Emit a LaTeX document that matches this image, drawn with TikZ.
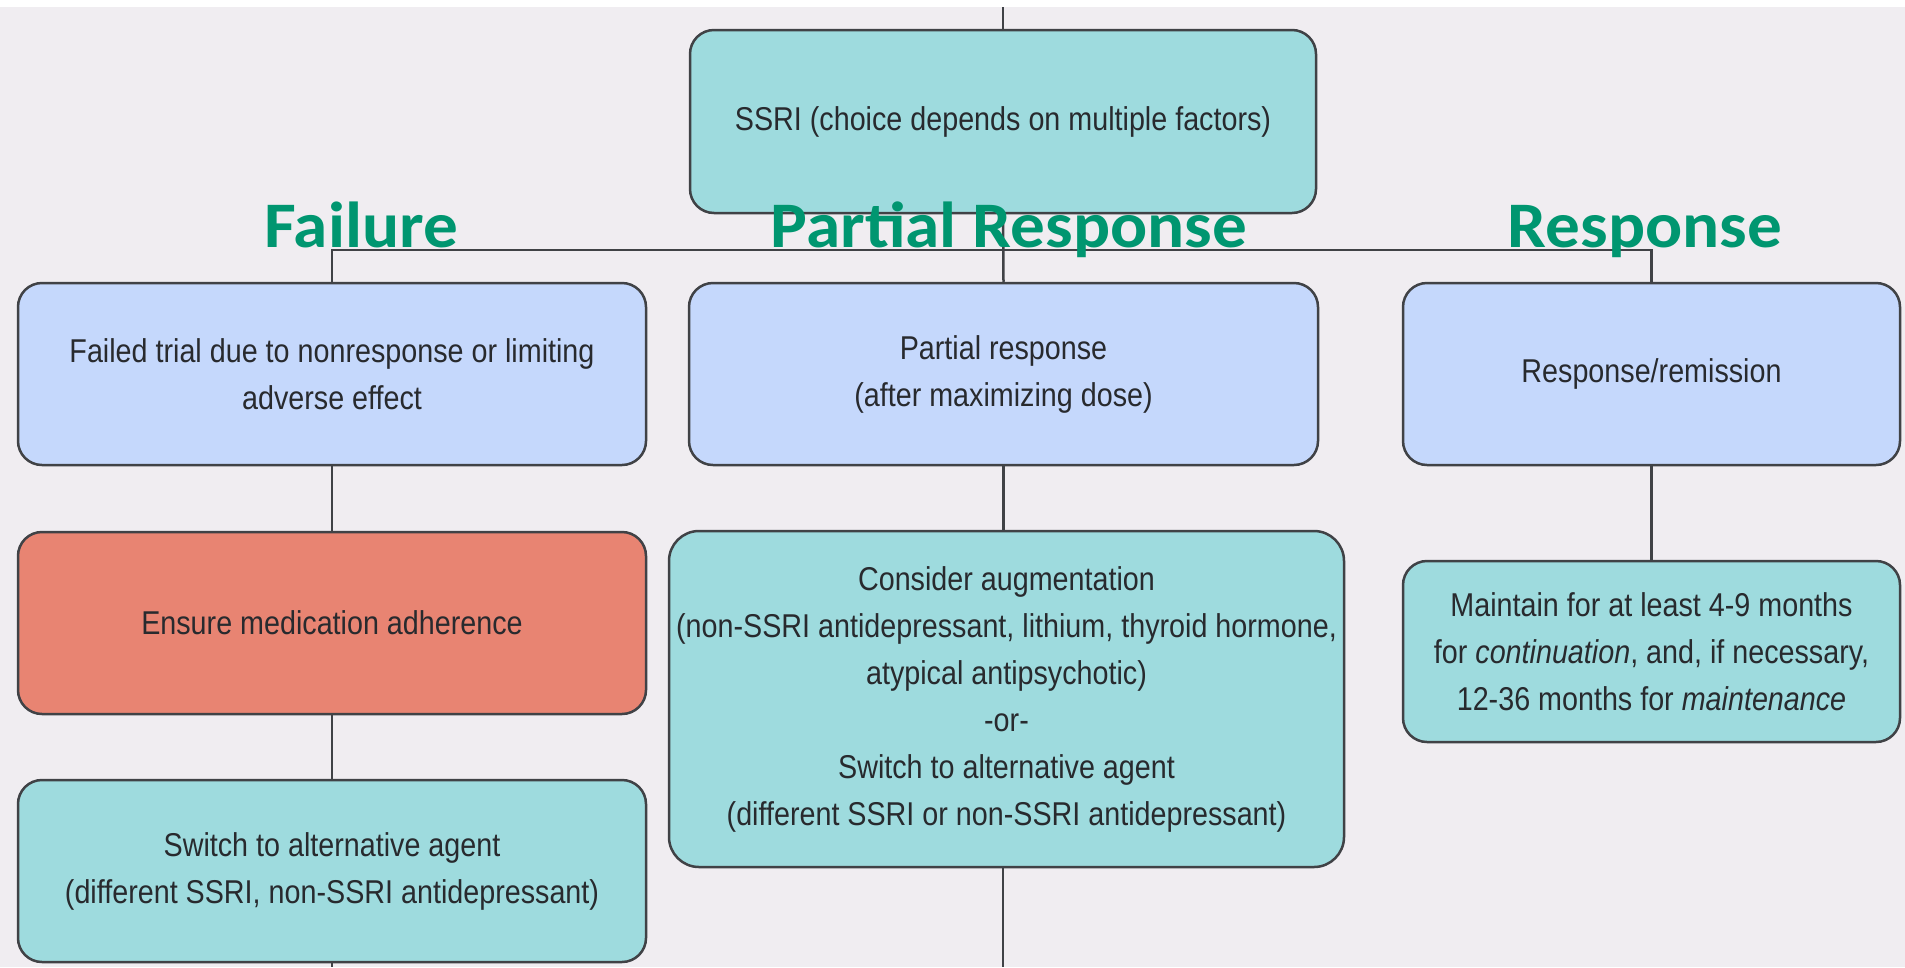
\documentclass[tikz,border=0pt]{standalone}
\usepackage{fontspec}
\setmainfont{Liberation Sans}[FakeStretch=0.87]
\newfontfamily\labelfont{Carlito}[FakeStretch=1.065]
\definecolor{bg}{RGB}{240,237,241}
\definecolor{tealbox}{RGB}{158,219,222}
\definecolor{bluebox}{RGB}{197,216,252}
\definecolor{redbox}{RGB}{232,132,114}
\definecolor{edge}{RGB}{64,66,70}
\definecolor{txt}{RGB}{40,42,46}
\definecolor{lblgreen}{RGB}{0,150,112}
\tikzset{
  box/.style={draw=edge, line width=2.5pt, rounded corners=24pt, align=center,
    text=txt, font=\fontsize{33}{47}\selectfont, inner sep=0pt},
  tbox/.style={box, fill=tealbox},
  bbox/.style={box, fill=bluebox},
  rbox/.style={box, fill=redbox},
  conn/.style={draw=edge, line width=2.5pt},
  lbl/.style={text=lblgreen, font=\labelfont\bfseries\fontsize{65}{70}\selectfont, anchor=base, inner sep=0pt}
}
\begin{document}
\begin{tikzpicture}[x=1pt,y=-1pt]
\fill[bg] (0,0) rectangle (1905,967);
\fill[white] (0,0) rectangle (1905,7);
\useasboundingbox (0,0) rectangle (1905,967);

\node[tbox, minimum width=626pt, minimum height=183pt] (ssri) at (1003,121.5) {SSRI (choice depends on multiple factors)};

\node[bbox, minimum width=628pt, minimum height=182pt] (fail) at (332,374) {Failed trial due to nonresponse or limiting\\adverse effect};
\node[rbox, minimum width=628pt, minimum height=182pt] (adh) at (332,623) {Ensure medication adherence};
\node[tbox, minimum width=628pt, minimum height=182pt] (sw) at (332,871) {Switch to alternative agent\\(different SSRI, non-SSRI antidepressant)};

\node[bbox, minimum width=629pt, minimum height=182pt] (part) at (1003.5,374) {Partial response\\(after maximizing dose)};
\node[tbox, rounded corners=30pt, minimum width=675pt, minimum height=336pt] (cons) at (1006.5,699) {Consider augmentation\\(non-SSRI antidepressant, lithium, thyroid hormone,\\atypical antipsychotic)\\-or-\\Switch to alternative agent\\(different SSRI or non-SSRI antidepressant)};

\node[bbox, minimum width=497pt, minimum height=182pt] (resp) at (1651.5,374) {Response/remission};
\node[tbox, minimum width=497pt, minimum height=181pt] (maint) at (1651.5,651.5) {Maintain for at least 4-9 months\\for \textit{continuation}, and, if necessary,\\12-36 months for \textit{maintenance}};

\coordinate (top) at (1003,7);
\coordinate (bar) at (1003,250);
\coordinate (bfail) at (332,967);
\coordinate (bcons) at (1003,967);

\draw[conn] (top) -- (ssri.north);
\draw[conn] (ssri.south) -- (part.north);
\draw[conn] (fail.north) -- (fail.north |- bar) -- (resp.north |- bar) -- (resp.north);
\draw[conn] (fail.south) -- (adh.north);
\draw[conn] (adh.south) -- (sw.north);
\draw[conn] (sw.south) -- (bfail);
\draw[conn] (part.south) -- (cons.north -| part.south);
\draw[conn] (cons.south -| bcons) -- (bcons);
\draw[conn] (resp.south) -- (maint.north);

\node[lbl] (lfail) at (361,247) {Failure};
\node[lbl] (lpart) at (1009,247) {Partial Response};
\node[lbl] (lresp) at (1645,247) {Response};
\end{tikzpicture}
\end{document}
